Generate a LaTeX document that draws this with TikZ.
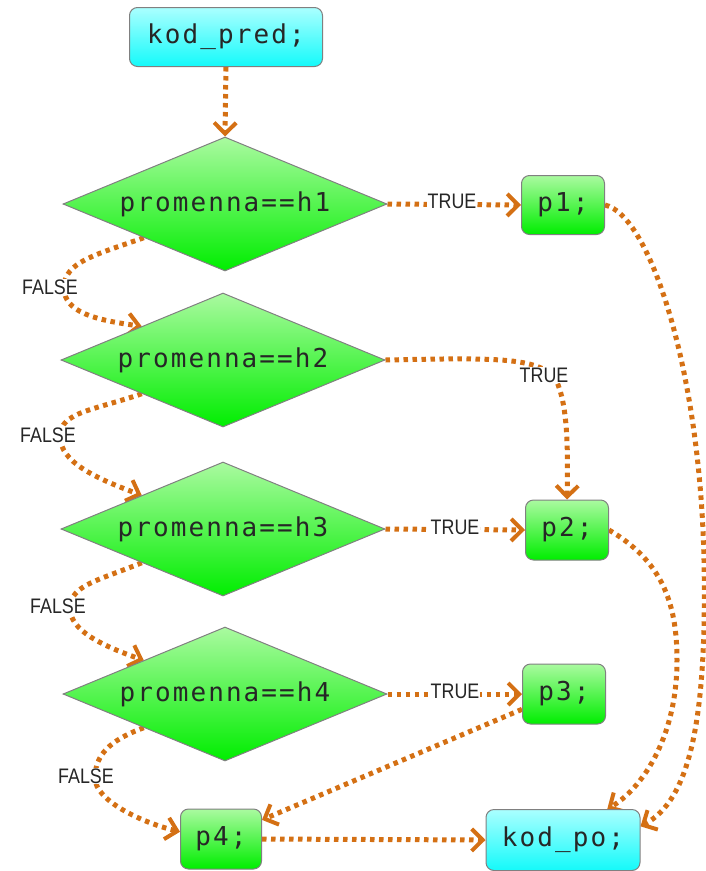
\documentclass[tikz,border=0pt]{standalone}
\usepackage{fontspec}
\setmonofont[LetterSpace=8]{DejaVu Sans Mono}
\newfontfamily\lblfont[FakeStretch=0.85]{Liberation Sans}
\usetikzlibrary{shapes.geometric,arrows.meta}
\definecolor{flowc}{RGB}{212,112,20}
\definecolor{cyantop}{RGB}{170,255,255}
\definecolor{cyanbot}{RGB}{20,250,250}
\definecolor{greentop}{RGB}{170,250,160}
\definecolor{greenbot}{RGB}{0,238,0}
\definecolor{bordc}{RGB}{128,128,128}
\pgfdeclarelayer{bg}
\pgfsetlayers{bg,main}
\tikzset{
  base/.style={draw=bordc, line width=1pt, inner sep=0pt, text=black!85,
    font=\ttfamily\fontsize{26}{32}\selectfont},
  cbox/.style={base, rectangle, rounded corners=8pt, top color=cyantop, bottom color=cyanbot},
  gbox/.style={base, rectangle, rounded corners=8pt, top color=greentop, bottom color=greenbot,
    minimum width=83pt, minimum height=60pt},
  dia/.style={base, diamond, aspect=2.4, minimum width=324pt, minimum height=134pt,
    top color=greentop, bottom color=greenbot},
  lbl/.style={fill=white, inner sep=1pt, text=black!85, font=\lblfont\fontsize{21}{24}\selectfont},
  flow/.style={draw=flowc, line width=5pt, dash pattern=on 4.5pt off 4.5pt,
    -{Straight Barb[length=11pt,width=22pt,line width=4pt]}},
}
\begin{document}
\begin{tikzpicture}[x=1pt,y=-1pt]
\useasboundingbox (0,0) rectangle (706,871);
% nodes
\node[cbox, minimum width=193pt, minimum height=59pt] (kp) at (226,37) {kod\_pred;};
\node[dia] (d1) at (225,204) {promenna==h1};
\node[dia] (d2) at (223,360) {promenna==h2};
\node[dia] (d3) at (223,529) {promenna==h3};
\node[dia] (d4) at (225,694) {promenna==h4};
\node[gbox, minimum height=59pt] (p1) at (563,205) {p1;};
\node[gbox] (p2) at (567,530) {p2;};
\node[gbox] (p3) at (564,694) {p3;};
\node[gbox, minimum width=81pt] (p4) at (221,839) {p4;};
\node[cbox, minimum width=154pt, minimum height=61pt] (ko) at (563,840) {kod\_po;};
% labels
\node[lbl] (t1) at (452,201) {TRUE};
\node[lbl] (t2) at (544,375) {TRUE};
\node[lbl] (t3) at (455,527) {TRUE};
\node[lbl] (t4) at (455,691) {TRUE};
\node[lbl] (f1) at (50,287) {FALSE};
\node[lbl] (f2) at (48,435) {FALSE};
\node[lbl] (f3) at (58,606) {FALSE};
\node[lbl] (f4) at (86,776) {FALSE};
\coordinate (c1) at (64,288);
\coordinate (c2) at (60,436);
\coordinate (c3) at (70,608);
\coordinate (c4) at (95,778);
\coordinate (c5) at (556,380);
\coordinate (r1) at (704,560);
\coordinate (r2) at (677,660);
% edges
\begin{pgfonlayer}{bg}
\draw[flow] (kp.south) -- (d1.north);
\draw[flow] (d1.east) -- (p1.west);
\draw[flow] (d3.east) -- (p2.west);
\draw[flow] (d4.east) -- (p3.west);
\draw[flow] (d2.east) .. controls (490,358) and (540,356) .. (c5)
   .. controls (568,405) and (568,450) .. (p2.north);
\draw[flow] (d1.south west) .. controls (95,255) and (64,262) .. (c1)
   .. controls (64,312) and (95,320) .. (d2.north west);
\draw[flow] (d2.south west) .. controls (95,410) and (60,412) .. (c2)
   .. controls (60,462) and (95,478) .. (d3.north west);
\draw[flow] (d3.south west) .. controls (100,580) and (70,585) .. (c3)
   .. controls (70,630) and (100,645) .. (d4.north west);
\draw[flow] (d4.south west) .. controls (110,740) and (95,755) .. (c4)
   .. controls (95,800) and (140,822) .. (p4.170);
\draw[flow] (p3.200) -- (p4.25);
\draw[flow] (p4.east) -- (ko.west);
\draw[flow] (p1.east) .. controls (650,215) and (700,370) .. (r1)
   .. controls (707,720) and (690,800) .. (ko.10);
\draw[flow] (p2.east) .. controls (660,560) and (677,600) .. (r2)
   .. controls (677,740) and (640,790) .. (ko.35);
\end{pgfonlayer}
\end{tikzpicture}
\end{document}
